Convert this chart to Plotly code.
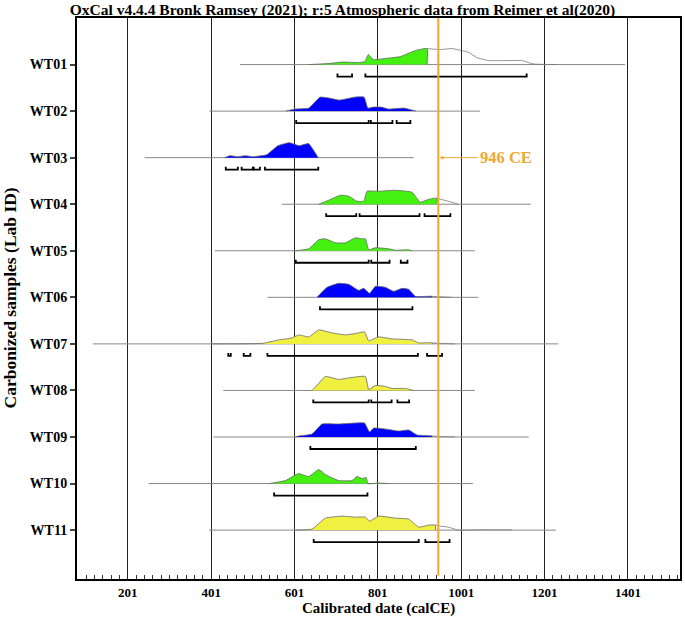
import plotly.graph_objects as go

labels = ["WT01","WT02","WT03","WT04","WT05","WT06","WT07","WT08","WT09","WT10","WT11"]
colors = ["#44f010","#0000ff","#0000ff","#44f010","#44f010","#0000ff","#f0f040","#f0f040","#0000ff","#44f010","#f0f040"]
extents = [[470,1394],[397,1046],[241,887],[570,1168],[410,1034],[536,1042],[117,1234],[430,1034],[406,1163],[251,1029],[396,1228]]
dens_x = [
 [635,681,717,754,770,778,790,818,855,891,919,951,979,1002,1020,1038,1066,1093,1121,1148,1162,1176,1231],
 [580,603,635,662,685,708,745,768,777,790,809,827,864,887,892],
 [433,446,465,483,501,534,561,589,612,635,658],
 [659,683,711,731,751,767,775,803,843,883,903,923,943,951,970,994],
 [603,635,659,675,699,723,747,761,771,779,795,827,843,875,883],
 [655,679,707,731,755,767,781,795,819,839,859,875,891,931,978],
 [404,524,563,595,611,635,659,691,723,755,769,779,803,835,883,898,931,951,986],
 [643,659,675,707,739,771,779,795,819,835,867,887],
 [603,611,643,667,707,747,769,781,791,819,851,875,895,931,951,986],
 [540,579,611,635,659,675,707,739,751,763,773,777,803,827],
 [603,643,675,715,747,771,781,803,843,875,899,923,939,951,970,994,1042,1122],
]
dens_h = [
 [0,1,2.5,2,3,10,5,6,8,14,16,15,16,14,12,7,4,4,4,4,2,0.5,0],
 [0,2,3,14,13,11,14,14,3,4,4,2,3,0.5,0],
 [0,2,1,2,1,3,12,15,12,14,0],
 [0,4,9,8,3,3,13,13,14,12,2,5,6,5,3,0],
 [0,2,11,12,8,8,13,12,12,1,3,2,0.5,1,0],
 [0,10,14,13,7,9,4,11,10,6,9,8,1,1,0],
 [0,0.5,4,6,9,7,14,11,9,11,12,3,7,5,4,1,1,0.5,0],
 [0,7,14,11,13,14,1,5,4,2,2,0],
 [0,1,3,13,13,14,14,5,9,8,6,7,2,1,0.5,0],
 [0,3,10,7,14,9,3,3,7,5,6,0,0.5,0],
 [0,1,12,14,13,13,9,14,12,11,3,5,5,4,3,0,0.3,0.3],
]
ranges = [
 [[704,739],[771,1158]],
 [[605,779],[784,836],[846,879]],
 [[436,465],[474,501],[503,518],[530,658]],
 [[677,749],[757,901],[913,975]],
 [[604,779],[785,829],[856,872]],
 [[662,884]],
 [[442,448],[479,495],[536,897],[919,955]],
 [[646,779],[785,834],[848,876]],
 [[639,892]],
 [[552,776]],
 [[647,899],[915,973]],
]
cutoff = 946
major_ticks = [201,401,601,801,1001,1201,1401]

ROW = 46.6
fig = go.Figure()
for i, lab in enumerate(labels):
    xs, hs = dens_x[i], dens_h[i]
    ext = extents[i]
    fig.add_trace(go.Scatter(x=ext, y=[i, i], mode="lines", line=dict(color="#888", width=1), hoverinfo="skip"))
    fx = [x for x in xs if x <= cutoff]
    fh = [h for x, h in zip(xs, hs) if x <= cutoff]
    fy = [i - h / ROW for h in fh]
    fig.add_trace(go.Scatter(x=[fx[0]] + fx + [fx[-1]], y=[i] + fy + [i], mode="lines", line_shape="spline",
                             fill="toself", fillcolor=colors[i], line=dict(color="#666", width=0.8, smoothing=0.4), hoverinfo="skip"))
    ox = [x for x in xs if x >= fx[-1]]
    oh = [h for x, h in zip(xs, hs) if x >= fx[-1]]
    if len(ox) > 1:
        fig.add_trace(go.Scatter(x=ox, y=[i - h / ROW for h in oh], mode="lines",
                                 line=dict(color="#777", width=0.8, shape="spline", smoothing=0.4), hoverinfo="skip"))
    bx, by = [], []
    yb = i + 12 / ROW
    for a, b in ranges[i]:
        bx += [a, a, b, b, None]
        by += [yb - 3 / ROW, yb, yb, yb - 3 / ROW, None]
    fig.add_trace(go.Scatter(x=bx, y=by, mode="lines", line=dict(color="black", width=1.8), hoverinfo="skip"))

fig.add_trace(go.Scatter(x=[cutoff, cutoff], y=[-1.0, 10.98], mode="lines",
                         line=dict(color="#f0a830", width=2), hoverinfo="skip"))

fig.add_annotation(x=cutoff + 3, y=2, text="<b>946 CE</b>", showarrow=True, arrowhead=2, arrowsize=0.8,
                   arrowwidth=1, arrowcolor="#f0a830", ax=38, ay=0, xanchor="left",
                   font=dict(color="#f0a830", size=16.5, family="Liberation Serif"))
fig.add_annotation(x=0.5, y=-29.5/561, xref="paper", yref="paper", text="<b>Calibrated date (calCE)</b>",
                   showarrow=False, yanchor="middle", font=dict(size=15, family="Liberation Serif"))
fig.add_annotation(x=-68/603, y=0.5, xref="paper", yref="paper", text="<b>Carbonized samples (Lab ID)</b>",
                   textangle=-90, showarrow=False, xanchor="center", font=dict(size=17.5, family="Liberation Serif"))

font = dict(family="Liberation Serif", size=14, color="black")
fig.update_layout(
    width=685, height=617, showlegend=False,
    plot_bgcolor="white", paper_bgcolor="white",
    margin=dict(l=77, r=5, t=18, b=38, autoexpand=False),
    title=dict(text="<b>OxCal v4.4.4 Bronk Ramsey (2021); r:5 Atmospheric data from Reimer et al(2020)</b>",
               x=0.5, xanchor="center", y=0.994, yanchor="top", font=dict(family="Liberation Serif", size=15.5)),
    font=font,
)
fig.update_xaxes(range=[79, 1526], tickvals=major_ticks, ticktext=["<b>%d</b>" % t for t in major_ticks],
                 tickfont=dict(size=13),
                 showgrid=True, gridcolor="#222", gridwidth=1, zeroline=False, automargin=False,
                 showline=True, linecolor="black", linewidth=2, mirror=True,
                 ticks="inside", ticklen=5, tickcolor="#222",
                 minor=dict(dtick=20, tick0=1, ticks="inside", ticklen=4, tickcolor="#333", showgrid=False))
fig.update_yaxes(range=[11.05, -1.0], tickvals=list(range(len(labels))), ticktext=["<b>%s</b>" % l for l in labels],
                 showgrid=False, zeroline=False, showline=True, linecolor="black", linewidth=2, mirror=True,
                 automargin=False, ticks="outside", ticklen=5, tickwidth=2)
fig.write_html("out.html", default_width="685px", default_height="617px", config={"displayModeBar": False})
with open("out.html") as f:
    html = f.read()
html = html.replace("<body>", '<body style="margin:0;overflow:hidden">', 1)
with open("out.html", "w") as f:
    f.write(html)
